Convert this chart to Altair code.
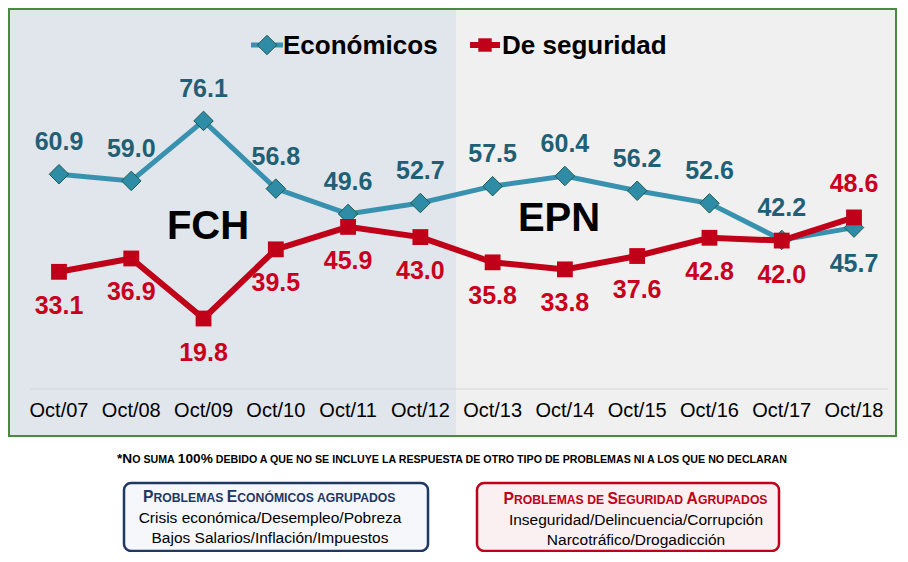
import unicodedata
import altair as alt
import pandas as pd

# ---------------- data ----------------
years = ["Oct/07", "Oct/08", "Oct/09", "Oct/10", "Oct/11", "Oct/12",
         "Oct/13", "Oct/14", "Oct/15", "Oct/16", "Oct/17", "Oct/18"]
economicos = [60.9, 59.0, 76.1, 56.8, 49.6, 52.7, 57.5, 60.4, 56.2, 52.6, 42.2, 45.7]
seguridad = [33.1, 36.9, 19.8, 39.5, 45.9, 43.0, 35.8, 33.8, 37.6, 42.8, 42.0, 48.6]
series_names = ["Económicos", "De seguridad"]
periods = ["FCH", "EPN"]
# mixed case: lowercase letters are drawn as small capitals
note = "*No suma 100% debido a que no se incluye la respuesta de otro tipo de problemas ni a los que no declaran"
box_econ = ["Problemas Económicos agrupados",
            "Crisis económica/Desempleo/Pobreza",
            "Bajos Salarios/Inflación/Impuestos"]
box_seg = ["Problemas de Seguridad Agrupados",
           "Inseguridad/Delincuencia/Corrupción",
           "Narcotráfico/Drogadicción"]

df_e = pd.DataFrame({"year": years, "value": economicos})
df_s = pd.DataFrame({"year": years, "value": seguridad})
df_y = pd.DataFrame({"year": years})

FONT = "'Liberation Sans', Arial, sans-serif"
TEAL = "#3891AF"
TEAL_FILL = "#2E8CA6"
TEAL_TXT = "#215F75"
RED = "#C00018"
RED_TXT = "#C8001E"
NAVY = "#1F3864"

xs = alt.Scale(type="point", domain=years, range=[51, 846], padding=0)
ys = alt.Scale(domain=[0, 100], range=[380, 29], nice=False, zero=False)
X = alt.X("year:N", scale=xs, axis=None)
Y = alt.Y("value:Q", scale=ys, axis=None)

one = pd.DataFrame({"t": [""]})

# Liberation Sans Bold (Arial Bold metrics) advance widths, per 1000 em
AW = dict(zip("ABCDEFGHIJKLMNOPQRSTUVWXYZ",
              [722, 722, 722, 722, 667, 611, 778, 722, 278, 556, 722, 611, 833,
               722, 778, 667, 778, 722, 667, 611, 722, 667, 944, 667, 667, 611]))
AW.update({" ": 278, "%": 889, "*": 389, "/": 278})
AW.update({d: 556 for d in "0123456789"})


def cw(c):
    base = unicodedata.normalize("NFD", c)[0]
    return AW.get(base, 600)


def small_caps(s, cx, base_y, target_w, color, ratio=1.28):
    runs = []
    for ch in s:
        small = ch.islower() or ch == " "
        if runs and runs[-1][1] == small:
            runs[-1][0] += ch.upper()
        else:
            runs.append([ch.upper(), small])
    em = sum(sum(cw(c) for c in r) * (1 if sm else ratio) for r, sm in runs) / 1000
    S = target_w / em
    x = cx - target_w / 2
    rows = []
    for r, sm in runs:
        size = S if sm else S * ratio
        lead = len(r) - len(r.lstrip(" "))
        x0 = x + lead * cw(" ") * size / 1000
        rows.append({"t": r.strip(" "), "x": x0, "size": size})
        x += sum(cw(c) for c in r) * size / 1000
    return alt.Chart(pd.DataFrame(rows)).mark_text(
        align="left", baseline="alphabetic", fontWeight="bold", font=FONT,
        color=color).encode(
        x=alt.X("x:Q", scale=None), y=alt.value(base_y),
        size=alt.Size("size:Q", scale=None, legend=None), text="t:N")


def rect(x, x2, y, y2, fill, stroke=None, sw=0, r=0):
    kw = dict(fill=fill, strokeWidth=sw, cornerRadius=r)
    if stroke:
        kw["stroke"] = stroke
    return alt.Chart(one).mark_rect(**kw).encode(
        x=alt.value(x), x2=alt.value(x2), y=alt.value(y), y2=alt.value(y2))


def txt(s, x, y, size, color, weight="bold", align="center"):
    return alt.Chart(pd.DataFrame({"t": [s]})).mark_text(
        align=align, baseline="middle", fontSize=size, fontWeight=weight,
        color=color, font=FONT).encode(x=alt.value(x), y=alt.value(y), text="t:N")


layers = []
# backgrounds
layers.append(rect(2, 448, 2, 427, "#E1E5EC"))
layers.append(rect(448, 887, 2, 427, "#F0F0F0"))
layers.append(rect(1, 888, 1, 428, "none", stroke="#4A8A3F", sw=2))
# baseline
layers.append(alt.Chart(one).mark_rule(color="#D6D6D6", strokeWidth=1.2).encode(
    x=alt.value(22), x2=alt.value(880), y=alt.value(381)))

# period labels
layers.append(txt(periods[0], 200, 219, 40, "black"))
layers.append(txt(periods[1], 551, 211, 40, "black"))

# economicos line + points
layers.append(alt.Chart(df_e).mark_line(color=TEAL, strokeWidth=5).encode(x=X, y=Y))
layers.append(alt.Chart(df_e).mark_point(shape="diamond", size=380, filled=True,
                                         fill=TEAL_FILL, stroke="#1E5B4E",
                                         strokeWidth=1, opacity=1).encode(x=X, y=Y))
# seguridad line + points
layers.append(alt.Chart(df_s).mark_line(color=RED, strokeWidth=6).encode(x=X, y=Y))
layers.append(alt.Chart(df_s).mark_point(shape="square", size=250, filled=True,
                                         fill=RED, opacity=1).encode(x=X, y=Y))

# value labels
lab = dict(fontSize=25, fontWeight="bold", font=FONT, baseline="middle", align="center")
last = "datum.year == 'Oct/18'"
layers.append(alt.Chart(df_e).transform_filter("!(" + last + ")").mark_text(
    dy=-32, color=TEAL_TXT, **lab).encode(x=X, y=Y, text=alt.Text("value:Q", format=".1f")))
layers.append(alt.Chart(df_e).transform_filter(last).mark_text(
    dy=36, color=TEAL_TXT, **lab).encode(x=X, y=Y, text=alt.Text("value:Q", format=".1f")))
layers.append(alt.Chart(df_s).transform_filter("!(" + last + ")").mark_text(
    dy=34, color=RED_TXT, **lab).encode(x=X, y=Y, text=alt.Text("value:Q", format=".1f")))
layers.append(alt.Chart(df_s).transform_filter(last).mark_text(
    dy=-33, color=RED_TXT, **lab).encode(x=X, y=Y, text=alt.Text("value:Q", format=".1f")))

# x labels
layers.append(alt.Chart(df_y).mark_text(fontSize=20, font=FONT, color="black",
                                        baseline="middle", align="center").encode(
    x=X, y=alt.value(403), text="year:N"))

# legend
layers.append(alt.Chart(one).mark_rule(color=TEAL, strokeWidth=5).encode(
    x=alt.value(243), x2=alt.value(275), y=alt.value(37)))
layers.append(alt.Chart(one).mark_point(shape="diamond", size=380, filled=True,
                                        fill=TEAL_FILL, stroke="#1E5B4E",
                                        strokeWidth=1, opacity=1).encode(
    x=alt.value(259), y=alt.value(37)))
layers.append(txt(series_names[0], 275, 38, 26, "black", align="left"))
layers.append(alt.Chart(one).mark_rule(color=RED, strokeWidth=6).encode(
    x=alt.value(462), x2=alt.value(492), y=alt.value(37)))
layers.append(alt.Chart(one).mark_point(shape="square", size=180, filled=True,
                                        fill=RED, opacity=1).encode(
    x=alt.value(477), y=alt.value(37)))
layers.append(txt(series_names[1], 494, 38, 26, "black", align="left"))

# note
layers.append(small_caps(note, 446, 455, 674, "black"))

# boxes
layers.append(rect(116, 420, 475, 543, "#F5F7FB", stroke=NAVY, sw=2.5, r=7))
layers.append(small_caps(box_econ[0], 262, 494, 254, NAVY))
layers.append(txt(box_econ[1], 262, 510, 15.5, "black", weight="normal"))
layers.append(txt(box_econ[2], 262, 530, 15.5, "black", weight="normal"))

layers.append(rect(469, 771, 475, 543, "#FBF0F1", stroke=RED, sw=2.5, r=7))
layers.append(small_caps(box_seg[0], 628, 496, 265, RED))
layers.append(txt(box_seg[1], 628, 512, 15.5, "black", weight="normal"))
layers.append(txt(box_seg[2], 628, 532, 15.5, "black", weight="normal"))

chart = alt.layer(*layers).properties(
    width=892, height=544, padding=0, autosize="none", background="white"
).configure_view(strokeWidth=0)

chart.save("out.html", embed_options={"renderer": "svg", "actions": False})
